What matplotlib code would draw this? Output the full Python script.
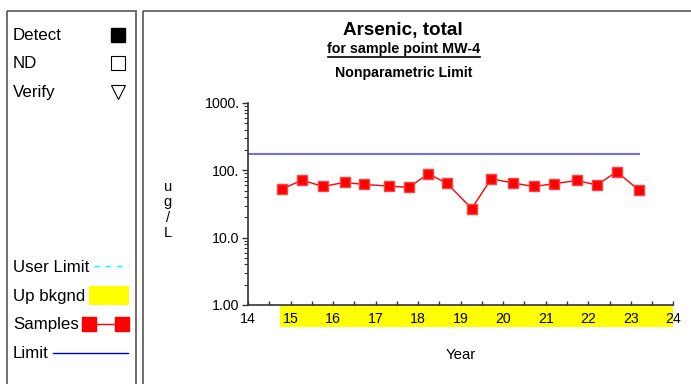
import matplotlib
matplotlib.use("Agg")
import matplotlib.pyplot as plt
from matplotlib.patches import Rectangle
from matplotlib.ticker import FixedLocator, MultipleLocator, LogLocator, NullFormatter
import matplotlib.transforms as mtransforms

plt.rcParams['font.family'] = ['Liberation Sans', 'DejaVu Sans']

# sample dates (decimal year, 2-digit) and results in ug/L
years = [14.80, 15.27, 15.76, 16.27, 16.73, 17.31, 17.78, 18.24, 18.68,
         19.26, 19.72, 20.24, 20.72, 21.19, 21.74, 22.20, 22.67, 23.19]
values = [52.7, 71.7, 57.6, 66.1, 61.7, 58.4, 55.7, 89.0, 63.8,
          27.1, 75.0, 64.7, 57.6, 63.2, 70.7, 60.4, 95.3, 50.9]

# nonparametric limit and upper background period
limit_value = 172.0
limit_span = [14.0, 23.19]
bkgnd_span = [14.75, 24.0]

x_ticks = [14, 15, 16, 17, 18, 19, 20, 21, 22, 23, 24]
y_ticks = [1, 10, 100, 1000]
y_labels = ["1.00", "10.0", "100.", "1000."]

W, H = 691, 384
fig = plt.figure(figsize=(W / 100, H / 100), dpi=100)

# overlay in pixel coords for the frames and the side legend
ov = fig.add_axes([0, 0, 1, 1], zorder=0)
ov.set_xlim(0, W)
ov.set_ylim(H, 0)
ov.axis("off")

frame = "#555555"
ov.add_patch(Rectangle((7, 11), 129, 400, fill=False, ec=frame, lw=1.2, clip_on=False))
ov.add_patch(Rectangle((143, 11), 600, 400, fill=False, ec=frame, lw=1.2, clip_on=False))

lg = dict(fontsize=12.2, va="center", ha="left")
ov.text(13, 35, "Detect", **lg)
ov.text(13, 63, "ND", **lg)
ov.text(13, 93, "Verify", **lg)
ov.text(13, 268, "User Limit", **lg)
ov.text(13, 296, "Up bkgnd", **lg)
ov.text(13, 324, "Samples", **lg)
ov.text(13, 353, "Limit", **lg)

ov.plot([118.5], [35], marker="s", ms=9.5, color="black", ls="none")
ov.plot([118.5], [63], marker="s", ms=9.5, mfc="white", mec="black", mew=0.8, ls="none")
ov.plot([118.5], [92], marker="v", ms=10.5, mfc="white", mec="black", mew=0.8, ls="none")
ov.plot([94, 128], [266, 266], color="cyan", lw=1, ls=(0, (4, 4)))
ov.add_patch(Rectangle((89, 286), 40, 19, color="yellow", lw=0))
ov.plot([89, 122], [324, 324], color="red", lw=1)
ov.plot([89, 122], [324, 324], marker="s", ms=10, color="red", ls="none")
ov.plot([53, 128], [353, 353], color="#0000cc", lw=1)

# titles
ov.text(403, 30, "Arsenic, total", fontsize=13.6, fontweight="bold", ha="center", va="center")
ov.text(404, 49, "for sample point MW-4", fontsize=10.3, fontweight="bold", ha="center", va="center")
ov.plot([328, 480], [57, 57], color="black", lw=1.2)
ov.text(404, 73, "Nonparametric Limit", fontsize=10.2, fontweight="bold", ha="center", va="center")
ov.text(168, 210, "u\ng\n/\nL", fontsize=10.5, ha="center", va="center", linespacing=1.15)
ov.text(461, 355, "Year", fontsize=10.8, ha="center", va="center")

# main plot
ax = fig.add_axes([248 / W, 1 - 305 / H, (673.3 - 248) / W, (305 - 103) / H], zorder=1)
ax.patch.set_alpha(0)
ax.set_yscale("log")
ax.set_xlim(14, 24)
ax.set_ylim(1, 1000)

trans = mtransforms.blended_transform_factory(ax.transData, ax.transAxes)
ax.add_patch(Rectangle((bkgnd_span[0], -0.108), bkgnd_span[1] - bkgnd_span[0], 0.103,
                       transform=trans, color="yellow", lw=0, clip_on=False, zorder=0))

ax.plot(limit_span, [limit_value, limit_value], color="#7070ee", lw=1.5)
ax.plot(years, values, color="red", lw=1, marker="s", ms=7.5, mec="#ff4040", mfc="red", clip_on=False)

ax.xaxis.set_major_locator(FixedLocator(x_ticks))
ax.xaxis.set_minor_locator(MultipleLocator(0.5))
ax.yaxis.set_major_locator(FixedLocator(y_ticks))
ax.set_yticklabels(y_labels)
ax.yaxis.set_minor_locator(LogLocator(base=10, subs=range(2, 10)))
ax.yaxis.set_minor_formatter(NullFormatter())

ax.tick_params(axis="x", which="both", direction="in", length=3, width=1, labelsize=10.2, pad=5, color="#333333")
ax.tick_params(axis="y", which="major", direction="out", length=4, width=1, labelsize=10.2, pad=2, color="#333333")
ax.tick_params(axis="y", which="minor", direction="out", length=3, width=0.8, color="#333333")
for s in ["top", "right"]:
    ax.spines[s].set_visible(False)
for s in ["left", "bottom"]:
    ax.spines[s].set_color("#333333")
    ax.spines[s].set_linewidth(1.2)

fig.savefig("out.png", dpi=100)
